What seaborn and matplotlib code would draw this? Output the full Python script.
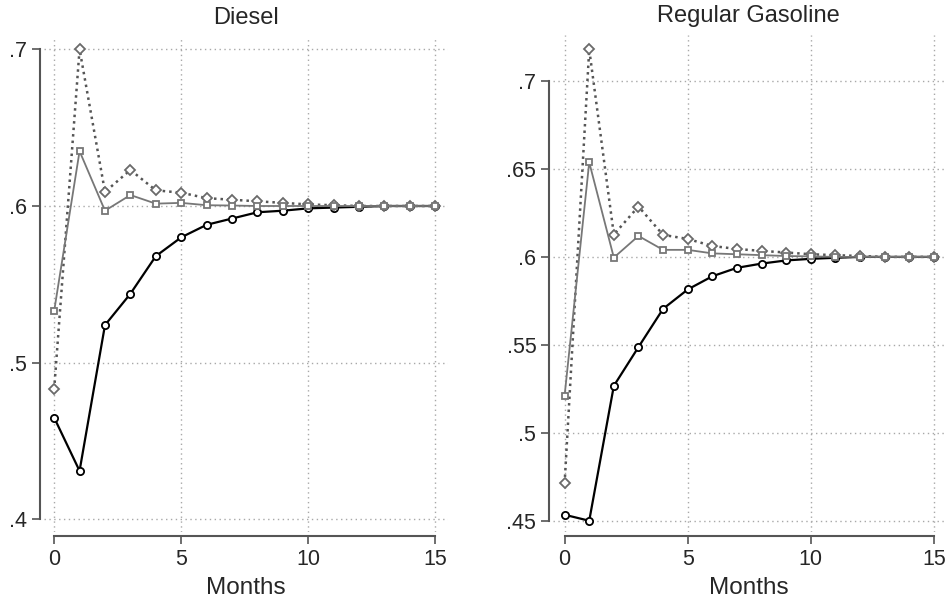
import numpy as np
import pandas as pd
import matplotlib
matplotlib.use("Agg")
import matplotlib.pyplot as plt
import seaborn as sns

# months after the shock
months = list(range(16))

# Diesel panel
diesel_circle = [0.465, 0.431, 0.524, 0.544, 0.568, 0.580, 0.588, 0.592, 0.596, 0.597,
                 0.5985, 0.599, 0.5995, 0.600, 0.600, 0.600]
diesel_square = [0.533, 0.635, 0.597, 0.607, 0.6015, 0.602, 0.6005, 0.6003, 0.600, 0.600,
                 0.600, 0.600, 0.600, 0.600, 0.600, 0.600]
diesel_diamond = [0.483, 0.700, 0.609, 0.623, 0.610, 0.6085, 0.605, 0.604, 0.603, 0.602,
                  0.601, 0.6005, 0.600, 0.600, 0.600, 0.600]

# Regular gasoline panel
gas_circle = [0.4536, 0.4502, 0.5268, 0.5488, 0.5705, 0.5815, 0.589, 0.5938, 0.5962, 0.598,
              0.5989, 0.5995, 0.600, 0.600, 0.600, 0.600]
gas_square = [0.5213, 0.6537, 0.5996, 0.6119, 0.604, 0.604, 0.602, 0.6015, 0.601, 0.6005,
              0.6003, 0.600, 0.600, 0.600, 0.600, 0.600]
gas_diamond = [0.4714, 0.7178, 0.6127, 0.6286, 0.6125, 0.6102, 0.6062, 0.6045, 0.6034, 0.6025,
               0.6015, 0.601, 0.6005, 0.600, 0.600, 0.600]

x_ticks = [0, 5, 10, 15]
diesel_yticks = [0.4, 0.5, 0.6, 0.7]
diesel_ylabels = [".4", ".5", ".6", ".7"]
gas_yticks = [0.45, 0.5, 0.55, 0.6, 0.65, 0.7]
gas_ylabels = [".45", ".5", ".55", ".6", ".65", ".7"]

sns.set_style("white")
plt.rcParams["font.family"] = ["Liberation Sans", "DejaVu Sans"]

fig = plt.figure(figsize=(9.46, 6), dpi=100)
ax1 = fig.add_axes([0.0465, 0.1133, 0.4271, 0.8255])
ax2 = fig.add_axes([0.5846, 0.1133, 0.4130, 0.8284])


def draw_panel(ax, title, circle, square, diamond, yticks, ylabels, xlim, ylim):
    df = pd.DataFrame({"Months": months, "circle": circle, "square": square, "diamond": diamond})
    sns.lineplot(data=df, x="Months", y="diamond", ax=ax, color="#555555", linestyle=(0, (1, 1.6)),
                 linewidth=1.8, marker="D", markersize=5.5, markerfacecolor="white",
                 markeredgecolor="#6a6a6a", markeredgewidth=1.3, zorder=3)
    sns.lineplot(data=df, x="Months", y="square", ax=ax, color="#777777", linewidth=1.3,
                 marker="s", markersize=5, markerfacecolor="white",
                 markeredgecolor="#777777", markeredgewidth=1.3, zorder=4)
    sns.lineplot(data=df, x="Months", y="circle", ax=ax, color="black", linewidth=1.6,
                 marker="o", markersize=5.2, markerfacecolor="white",
                 markeredgecolor="black", markeredgewidth=1.3, zorder=2)
    ax.set_xlim(*xlim)
    ax.set_ylim(*ylim)
    ax.set_xticks(x_ticks)
    ax.set_xticklabels([str(t) for t in x_ticks])
    ax.set_yticks(yticks)
    ax.set_yticklabels(ylabels)
    ax.grid(True, color="#a8a8a8", linestyle=(0, (1, 2.5)), linewidth=1.0)
    ax.set_axisbelow(True)
    ax.set_title(title, fontsize=17, pad=9)
    ax.set_xlabel("Months", fontsize=17.5, labelpad=5)
    ax.set_ylabel("")
    ax.tick_params(axis="both", direction="out", length=6, width=1.2, color="#555555",
                   labelsize=15.5, pad=3, left=True, bottom=True)
    sns.despine(ax=ax, offset=3, trim=True)
    for side in ("left", "bottom"):
        ax.spines[side].set_color("#555555")
        ax.spines[side].set_linewidth(1.5)


draw_panel(ax1, "Diesel", diesel_circle, diesel_square, diesel_diamond,
           diesel_yticks, diesel_ylabels, (-0.4, 15.5), (0.392, 0.708))
draw_panel(ax2, "Regular Gasoline", gas_circle, gas_square, gas_diamond,
           gas_yticks, gas_ylabels, (-0.47, 15.4), (0.4438, 0.726))

fig.savefig("out.png", dpi=100)
